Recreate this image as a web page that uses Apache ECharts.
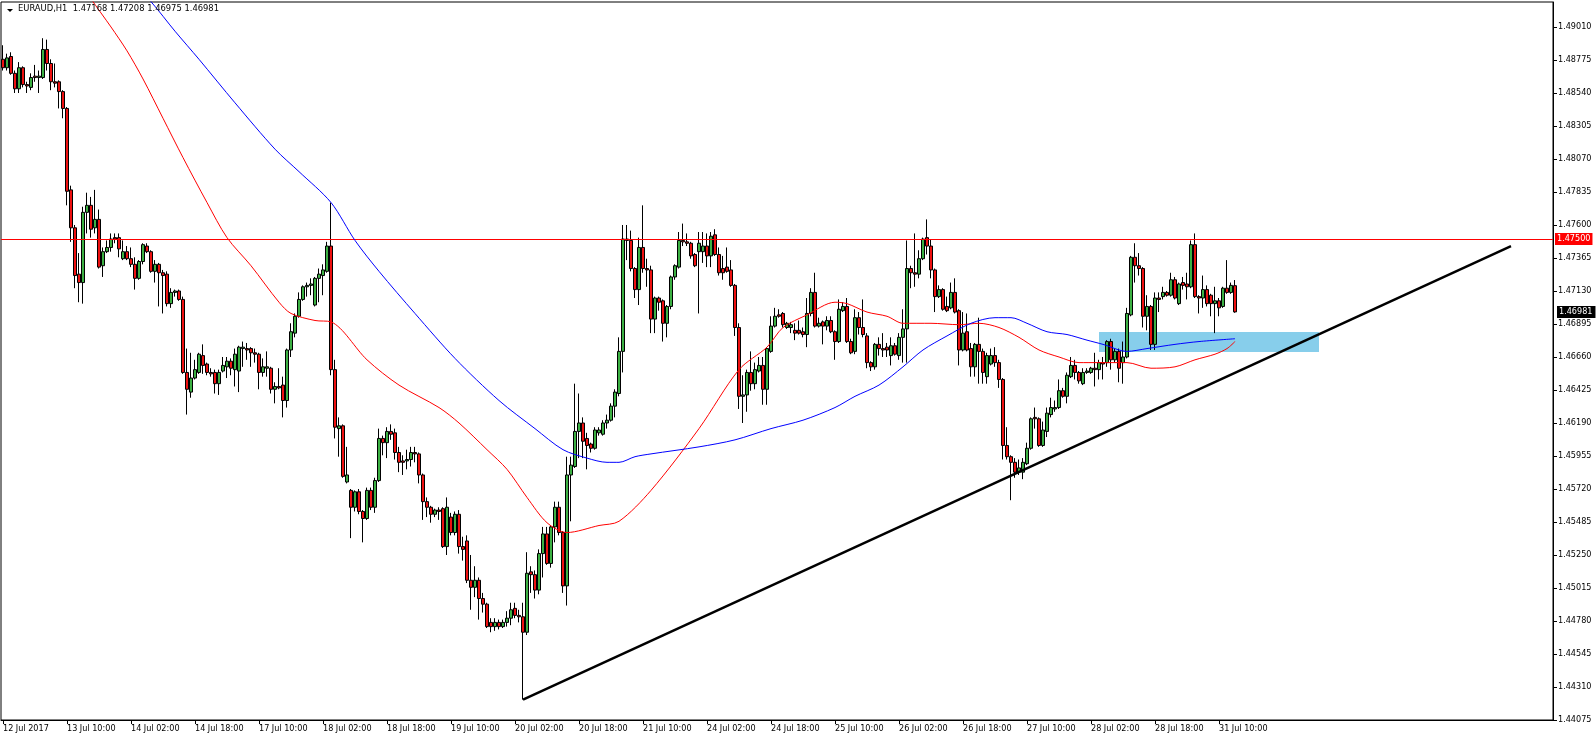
<!DOCTYPE html>
<html><head><meta charset="utf-8">
<script src="https://cdn.jsdelivr.net/npm/echarts@6/dist/echarts.min.js"></script>
<style>html,body{margin:0;padding:0;background:#fff}#c{width:1596px;height:744px}</style>
</head><body><div id="c"></div>
<script>
const symbolName = 'EURAUD,H1';
const firstBarTime = '2017-07-12T18:00:00Z';
const totalSlots = 388;
const xTickEvery = 16;
const xTickLabels = ['12 Jul 2017','13 Jul 10:00','14 Jul 02:00','14 Jul 18:00','17 Jul 10:00','18 Jul 02:00','18 Jul 18:00','19 Jul 10:00','20 Jul 02:00','20 Jul 18:00','21 Jul 10:00','24 Jul 02:00','24 Jul 18:00','25 Jul 10:00','26 Jul 02:00','26 Jul 18:00','27 Jul 10:00','28 Jul 02:00','28 Jul 18:00','31 Jul 10:00'];
const yTicks = [1.44075,1.44310,1.44545,1.44780,1.45015,1.45250,1.45485,1.45720,1.45955,1.46190,1.46425,1.46660,1.46895,1.47130,1.47365,1.47600,1.47835,1.48070,1.48305,1.48540,1.48775,1.49010];
const yMin = 1.44075, yMax = 1.49188;
const resistance = 1.47500;
const trendLine = [[130, 1.4422], [377, 1.4745]];
const zoneX = [274, 329];
const zoneY = [1.46838, 1.46696];
// [open, close, low, high]
const ohlc = [
[1.4878,1.4872,1.4870,1.4888],[1.4872,1.4879,1.4870,1.4882],[1.4880,1.4868,1.4867,1.4883],[1.4868,1.4857,1.4854,1.4870],
[1.4857,1.4872,1.4854,1.4876],[1.4872,1.4860,1.4858,1.4873],[1.4860,1.4859,1.4854,1.4862],[1.4858,1.4865,1.4856,1.4868],
[1.4866,1.4865,1.4862,1.4874],[1.4865,1.4866,1.4854,1.4870],[1.4865,1.4885,1.4864,1.4893],[1.4885,1.4875,1.4870,1.4892],
[1.4875,1.4862,1.4856,1.4878],[1.4862,1.4861,1.4858,1.4875],[1.4862,1.4855,1.4843,1.4863],[1.4855,1.4843,1.4836,1.4856],
[1.4843,1.4784,1.4774,1.4844],[1.4785,1.4758,1.4748,1.4788],[1.4758,1.4724,1.4715,1.4760],[1.4725,1.4719,1.4705,1.4740],
[1.4719,1.4769,1.4704,1.4773],[1.4769,1.4774,1.4754,1.4783],[1.4774,1.4757,1.4751,1.4780],[1.4758,1.4764,1.4754,1.4785],
[1.4764,1.4730,1.4729,1.4771],[1.4731,1.4741,1.4723,1.4744],[1.4741,1.4744,1.4740,1.4749],[1.4744,1.4750,1.4741,1.4754],
[1.4751,1.4750,1.4747,1.4754],[1.4751,1.4743,1.4737,1.4754],[1.4736,1.4741,1.4735,1.4749],[1.4741,1.4736,1.4735,1.4745],
[1.4736,1.4732,1.4730,1.4744],[1.4732,1.4722,1.4714,1.4737],[1.4722,1.4734,1.4721,1.4735],[1.4734,1.4746,1.4732,1.4747],
[1.4745,1.4741,1.4740,1.4747],[1.4741,1.4727,1.4726,1.4742],[1.4727,1.4732,1.4719,1.4735],[1.4732,1.4726,1.4702,1.4733],
[1.4726,1.4724,1.4697,1.4728],[1.4725,1.4704,1.4702,1.4727],[1.4704,1.4712,1.4701,1.4715],[1.4712,1.4713,1.4709,1.4714],
[1.4713,1.4707,1.4706,1.4714],[1.4707,1.4655,1.4654,1.4709],[1.4655,1.4643,1.4625,1.4672],[1.4641,1.4651,1.4637,1.4669],
[1.4651,1.4657,1.4650,1.4664],[1.4655,1.4668,1.4654,1.4669],[1.4667,1.4660,1.4654,1.4675],[1.4661,1.4655,1.4653,1.4662],
[1.4655,1.4654,1.4652,1.4658],[1.4655,1.4647,1.4640,1.4657],[1.4647,1.4655,1.4639,1.4657],[1.4656,1.4660,1.4655,1.4666],
[1.4659,1.4663,1.4651,1.4666],[1.4663,1.4658,1.4653,1.4665],[1.4657,1.4668,1.4645,1.4672],[1.4656,1.4673,1.4641,1.4674],
[1.4672,1.4673,1.4659,1.4677],[1.4672,1.4671,1.4664,1.4676],[1.4672,1.4669,1.4659,1.4673],[1.4669,1.4668,1.4662,1.4672],
[1.4668,1.4655,1.4643,1.4669],[1.4655,1.4659,1.4652,1.4665],[1.4658,1.4659,1.4652,1.4670],[1.4658,1.4643,1.4640,1.4659],
[1.4643,1.4645,1.4633,1.4648],[1.4645,1.4644,1.4643,1.4658],[1.4646,1.4635,1.4623,1.4652],[1.4635,1.4671,1.4630,1.4672],
[1.4671,1.4684,1.4666,1.4690],[1.4683,1.4695,1.4680,1.4697],[1.4695,1.4707,1.4694,1.4712],[1.4707,1.4716,1.4706,1.4717],
[1.4716,1.4717,1.4709,1.4719],[1.4717,1.4718,1.4710,1.4722],[1.4703,1.4722,1.4702,1.4723],[1.4722,1.4725,1.4705,1.4729],
[1.4724,1.4728,1.4710,1.4732],[1.4727,1.4745,1.4726,1.4748],[1.4745,1.4657,1.4653,1.4776],[1.4657,1.4616,1.4608,1.4664],
[1.4615,1.4617,1.4595,1.4623],[1.4617,1.4581,1.4580,1.4618],[1.4577,1.4582,1.4576,1.4602],[1.4571,1.4559,1.4537,1.4572],
[1.4559,1.4570,1.4556,1.4571],[1.4570,1.4556,1.4554,1.4572],[1.4556,1.4551,1.4534,1.4557],[1.4551,1.4571,1.4550,1.4573],
[1.4571,1.4559,1.4557,1.4573],[1.4559,1.4578,1.4555,1.4580],[1.4578,1.4608,1.4577,1.4615],[1.4608,1.4605,1.4596,1.4610],
[1.4605,1.4613,1.4594,1.4616],[1.4613,1.4611,1.4607,1.4618],[1.4612,1.4598,1.4593,1.4615],[1.4598,1.4591,1.4584,1.4602],
[1.4592,1.4591,1.4582,1.4596],[1.4592,1.4593,1.4586,1.4600],[1.4593,1.4598,1.4588,1.4602],[1.4598,1.4597,1.4591,1.4602],
[1.4597,1.4582,1.4576,1.4598],[1.4582,1.4563,1.4550,1.4583],[1.4563,1.4559,1.4552,1.4566],[1.4559,1.4554,1.4548,1.4560],
[1.4554,1.4557,1.4552,1.4558],[1.4557,1.4556,1.4550,1.4559],[1.4558,1.4531,1.4530,1.4559],[1.4531,1.4559,1.4525,1.4566],
[1.4552,1.4541,1.4539,1.4555],[1.4541,1.4554,1.4539,1.4556],[1.4554,1.4531,1.4526,1.4557],[1.4531,1.4529,1.4521,1.4538],
[1.4535,1.4507,1.4505,1.4539],[1.4507,1.4502,1.4486,1.4525],[1.4502,1.4507,1.4495,1.4517],[1.4507,1.4494,1.4479,1.4509],
[1.4494,1.4490,1.4484,1.4498],[1.4490,1.4474,1.4473,1.4491],[1.4477,1.4474,1.4470,1.4480],[1.4474,1.4477,1.4471,1.4480],
[1.4477,1.4474,1.4472,1.4479],[1.4474,1.4477,1.4473,1.4479],[1.4477,1.4480,1.4474,1.4485],[1.4480,1.4486,1.4475,1.4491],
[1.4487,1.4482,1.4480,1.4491],[1.4482,1.4481,1.4477,1.4486],[1.4481,1.4470,1.4422,1.4491],[1.4470,1.4512,1.4468,1.4527],
[1.4513,1.4511,1.4498,1.4517],[1.4511,1.4500,1.4494,1.4514],[1.4500,1.4526,1.4497,1.4529],[1.4526,1.4540,1.4509,1.4545],
[1.4540,1.4519,1.4518,1.4545],[1.4519,1.4545,1.4516,1.4546],[1.4545,1.4559,1.4534,1.4563],[1.4559,1.4541,1.4539,1.4563],
[1.4541,1.4503,1.4498,1.4542],[1.4503,1.4582,1.4489,1.4595],[1.4582,1.4589,1.4549,1.4595],[1.4588,1.4613,1.4587,1.4647],
[1.4613,1.4619,1.4594,1.4640],[1.4619,1.4606,1.4594,1.4623],[1.4608,1.4603,1.4586,1.4612],[1.4604,1.4601,1.4598,1.4605],
[1.4601,1.4614,1.4600,1.4616],[1.4612,1.4614,1.4610,1.4616],[1.4611,1.4619,1.4610,1.4621],[1.4619,1.4621,1.4615,1.4625],
[1.4621,1.4631,1.4620,1.4633],[1.4631,1.4641,1.4623,1.4643],[1.4640,1.4670,1.4638,1.4680],[1.4670,1.4750,1.4655,1.4760],
[1.4750,1.4749,1.4735,1.4760],[1.4749,1.4729,1.4727,1.4756],[1.4729,1.4714,1.4708,1.4730],[1.4714,1.4744,1.4703,1.4751],
[1.4744,1.4729,1.4726,1.4774],[1.4729,1.4728,1.4716,1.4736],[1.4728,1.4693,1.4683,1.4731],[1.4693,1.4708,1.4683,1.4709],
[1.4708,1.4705,1.4699,1.4709],[1.4706,1.4690,1.4677,1.4707],[1.4690,1.4702,1.4680,1.4703],[1.4702,1.4723,1.4700,1.4724],
[1.4723,1.4731,1.4721,1.4732],[1.4730,1.4749,1.4729,1.4755],[1.4749,1.4748,1.4745,1.4761],[1.4748,1.4747,1.4745,1.4754],
[1.4747,1.4738,1.4736,1.4748],[1.4739,1.4731,1.4730,1.4740],[1.4741,1.4747,1.4697,1.4755],[1.4741,1.4745,1.4733,1.4755],
[1.4745,1.4738,1.4730,1.4754],[1.4738,1.4752,1.4730,1.4755],[1.4753,1.4739,1.4738,1.4757],[1.4739,1.4726,1.4724,1.4744],
[1.4729,1.4726,1.4721,1.4738],[1.4730,1.4727,1.4726,1.4744],[1.4728,1.4717,1.4716,1.4735],[1.4717,1.4687,1.4681,1.4718],
[1.4687,1.4638,1.4629,1.4690],[1.4638,1.4639,1.4619,1.4653],[1.4639,1.4655,1.4627,1.4657],[1.4655,1.4647,1.4642,1.4670],
[1.4647,1.4657,1.4643,1.4662],[1.4656,1.4660,1.4655,1.4666],[1.4660,1.4643,1.4632,1.4666],[1.4643,1.4672,1.4632,1.4673],
[1.4670,1.4688,1.4669,1.4695],[1.4688,1.4695,1.4687,1.4701],[1.4696,1.4695,1.4694,1.4700],[1.4697,1.4689,1.4687,1.4698],
[1.4687,1.4690,1.4686,1.4691],[1.4687,1.4689,1.4683,1.4691],[1.4685,1.4683,1.4678,1.4690],[1.4685,1.4683,1.4682,1.4692],
[1.4684,1.4682,1.4680,1.4687],[1.4682,1.4697,1.4673,1.4708],[1.4697,1.4712,1.4695,1.4715],[1.4712,1.4688,1.4687,1.4726],
[1.4688,1.4690,1.4687,1.4694],[1.4691,1.4688,1.4675,1.4692],[1.4688,1.4692,1.4685,1.4695],[1.4692,1.4684,1.4683,1.4695],
[1.4684,1.4677,1.4664,1.4685],[1.4677,1.4700,1.4676,1.4707],[1.4699,1.4702,1.4698,1.4705],[1.4702,1.4677,1.4676,1.4708],
[1.4677,1.4669,1.4668,1.4679],[1.4670,1.4694,1.4668,1.4700],[1.4694,1.4687,1.4682,1.4698],[1.4687,1.4682,1.4680,1.4707],
[1.4681,1.4662,1.4658,1.4683],[1.4662,1.4659,1.4656,1.4663],[1.4659,1.4675,1.4657,1.4676],[1.4675,1.4672,1.4667,1.4680],
[1.4672,1.4671,1.4666,1.4683],[1.4673,1.4671,1.4666,1.4676],[1.4667,1.4674,1.4660,1.4680],[1.4674,1.4668,1.4667,1.4676],
[1.4667,1.4680,1.4664,1.4683],[1.4680,1.4686,1.4662,1.4700],[1.4686,1.4729,1.4662,1.4749],[1.4729,1.4726,1.4715,1.4731],
[1.4726,1.4725,1.4716,1.4754],[1.4725,1.4736,1.4722,1.4742],[1.4736,1.4750,1.4735,1.4751],[1.4751,1.4745,1.4739,1.4764],
[1.4745,1.4728,1.4722,1.4750],[1.4728,1.4709,1.4698,1.4729],[1.4709,1.4714,1.4708,1.4717],[1.4714,1.4700,1.4699,1.4715],
[1.4702,1.4699,1.4698,1.4709],[1.4701,1.4712,1.4700,1.4719],[1.4712,1.4698,1.4697,1.4722],[1.4699,1.4671,1.4660,1.4700],
[1.4671,1.4683,1.4670,1.4698],[1.4684,1.4671,1.4670,1.4697],[1.4672,1.4659,1.4652,1.4676],[1.4659,1.4675,1.4652,1.4676],
[1.4675,1.4670,1.4647,1.4694],[1.4670,1.4655,1.4647,1.4672],[1.4652,1.4667,1.4647,1.4669],[1.4661,1.4667,1.4660,1.4672],
[1.4667,1.4662,1.4659,1.4673],[1.4662,1.4650,1.4644,1.4664],[1.4650,1.4603,1.4593,1.4651],[1.4603,1.4595,1.4593,1.4616],
[1.4595,1.4591,1.4564,1.4596],[1.4591,1.4584,1.4580,1.4594],[1.4584,1.4587,1.4582,1.4593],[1.4584,1.4591,1.4579,1.4594],
[1.4590,1.4601,1.4589,1.4605],[1.4601,1.4622,1.4600,1.4623],[1.4623,1.4622,1.4615,1.4630],[1.4622,1.4603,1.4602,1.4623],
[1.4603,1.4614,1.4602,1.4620],[1.4613,1.4626,1.4609,1.4630],[1.4625,1.4630,1.4623,1.4637],[1.4629,1.4630,1.4627,1.4635],
[1.4630,1.4642,1.4629,1.4650],[1.4642,1.4638,1.4637,1.4644],[1.4638,1.4653,1.4633,1.4655],[1.4652,1.4660,1.4651,1.4666],
[1.4660,1.4655,1.4650,1.4664],[1.4655,1.4649,1.4647,1.4656],[1.4647,1.4655,1.4646,1.4658],[1.4655,1.4656,1.4654,1.4658],
[1.4655,1.4658,1.4654,1.4659],[1.4658,1.4657,1.4645,1.4669],[1.4657,1.4662,1.4650,1.4664],[1.4662,1.4661,1.4650,1.4666],
[1.4662,1.4677,1.4659,1.4678],[1.4677,1.4664,1.4657,1.4679],[1.4664,1.4670,1.4662,1.4672],[1.4670,1.4658,1.4648,1.4672],
[1.4662,1.4666,1.4647,1.4677],[1.4666,1.4697,1.4665,1.4701],[1.4696,1.4737,1.4695,1.4738],[1.4737,1.4731,1.4719,1.4747],
[1.4731,1.4729,1.4724,1.4740],[1.4729,1.4695,1.4687,1.4730],[1.4695,1.4702,1.4685,1.4710],[1.4702,1.4675,1.4671,1.4703],
[1.4675,1.4708,1.4671,1.4712],[1.4708,1.4707,1.4698,1.4712],[1.4709,1.4712,1.4707,1.4716],[1.4712,1.4710,1.4709,1.4713],
[1.4710,1.4721,1.4709,1.4726],[1.4721,1.4708,1.4707,1.4723],[1.4704,1.4718,1.4703,1.4719],[1.4719,1.4717,1.4714,1.4723],
[1.4718,1.4716,1.4707,1.4726],[1.4716,1.4746,1.4715,1.4749],[1.4746,1.4709,1.4708,1.4754],[1.4709,1.4708,1.4697,1.4710],
[1.4708,1.4714,1.4701,1.4724],[1.4714,1.4704,1.4702,1.4717],[1.4710,1.4704,1.4695,1.4711],[1.4704,1.4706,1.4683,1.4716],
[1.4706,1.4701,1.4695,1.4708],[1.4702,1.4715,1.4701,1.4716],[1.4715,1.4712,1.4711,1.4735],[1.4712,1.4717,1.4711,1.4719],
[1.47168,1.46981,1.46975,1.47208]
];
// moving averages: [bar index, price]
const maRed = [[20,1.4930],[22,1.4921],[27,1.4901],[31,1.4884],[35,1.4864],[40,1.4836],[45,1.4808],[51,1.4776],[56,1.4751],[62,1.4731],[69,1.4705],[72,1.4697],[78,1.4692],[82,1.4691],[91,1.4664],[99,1.4646],[109,1.4630],[114,1.4619],[121,1.4600],[126,1.4586],[131,1.4566],[136,1.4548],[141,1.4541],[149,1.4546],[154,1.4549],[162,1.4571],[174,1.4615],[184,1.4657],[191,1.4673],[195,1.4687],[201,1.4696],[208,1.4705],[211,1.4704],[216,1.4698],[221,1.4695],[225,1.4690],[232,1.4690],[239,1.4689],[244,1.4690],[249,1.4687],[254,1.4680],[259,1.4671],[264,1.4666],[269,1.4662],[274,1.4662],[281,1.4662],[287,1.4658],[293,1.4659],[298,1.4664],[303,1.4668],[306,1.4672],[308,1.4677]];
const maBlue = [[33,1.4930],[37,1.4919],[43,1.4898],[49,1.4878],[58,1.4847],[68,1.4814],[74,1.4798],[82,1.4776],[88,1.4749],[94,1.4727],[103,1.4697],[113,1.4665],[124,1.4635],[133,1.4615],[140,1.4600],[146,1.4594],[151,1.4591],[154,1.4591],[158,1.4595],[162,1.4597],[174,1.4602],[183,1.4607],[192,1.4615],[200,1.4621],[208,1.4630],[213,1.4638],[219,1.4646],[225,1.4659],[230,1.4671],[236,1.4681],[242,1.4690],[248,1.4694],[252,1.4694],[256,1.4690],[261,1.4684],[266,1.4682],[271,1.4678],[275,1.4675],[281,1.4670],[286,1.4672],[293,1.4675],[299,1.4677],[308,1.4679]];

const months=['Jan','Feb','Mar','Apr','May','Jun','Jul','Aug','Sep','Oct','Nov','Dec'];
const cats=[]; let t=Date.parse(firstBarTime);
while(cats.length<totalSlots){const d=new Date(t);const wd=d.getUTCDay();
  if(wd!==0&&wd!==6){cats.push(d.getUTCDate()+' '+months[d.getUTCMonth()]+' '+String(d.getUTCHours()).padStart(2,'0')+':00');}
  t+=3600000;}
const FONT='"DejaVu Sans Condensed","DejaVu Sans",sans-serif';
const showTick=(i)=> i%xTickEvery===0 && i/xTickEvery<xTickLabels.length;
const last=ohlc[ohlc.length-1];
const headerText=symbolName+'  '+[last[0],last[3],last[2],last[1]].map(v=>v.toFixed(5)).join(' ');

const chart=echarts.init(document.getElementById('c'),null,{renderer:'canvas'});
chart.setOption({
  animation:false,
  backgroundColor:'#ffffff',
  grid:{left:1,right:43,top:2,bottom:24,show:true,borderColor:'#000',borderWidth:1,backgroundColor:'transparent'},
  xAxis:{type:'category',data:cats,boundaryGap:true,
    axisLine:{show:true,lineStyle:{color:'#000',width:1}},
    axisTick:{show:true,alignWithLabel:true,interval:(i)=>showTick(i),length:4,lineStyle:{color:'#000'}},
    axisLabel:{interval:(i)=>showTick(i),formatter:(v,i)=>xTickLabels[Math.round(i/xTickEvery)]||'',align:'left',margin:4,color:'#000',fontFamily:FONT,fontSize:9},
    splitLine:{show:false}},
  yAxis:{type:'value',position:'right',min:yMin,max:yMax,scale:true,
    splitLine:{show:false},
    axisLine:{show:true,lineStyle:{color:'#000',width:1}},
    axisTick:{show:true,length:4,customValues:yTicks,lineStyle:{color:'#000'}},
    axisLabel:{customValues:yTicks,formatter:(v)=>v.toFixed(5),color:'#000',fontFamily:FONT,fontSize:9,margin:5,showMinLabel:true,showMaxLabel:true}},
  graphic:[
    {type:'polygon',shape:{points:[[7,9],[13,9],[10,12]]},style:{fill:'#000'},z:100},
    {type:'text',left:18,top:4,style:{text:headerText,fill:'#000',font:'9.3px '+FONT},z:100}
  ],
  series:[
    {type:'line',name:'zone',data:[[zoneX[0],zoneY[0]],[zoneX[1],zoneY[1]]],showSymbol:false,symbol:'none',lineStyle:{opacity:0,width:0},z:1,silent:true,
      markArea:{silent:true,itemStyle:{color:'#87CEEB',opacity:1},data:[[{xAxis:zoneX[0],yAxis:zoneY[0]},{xAxis:zoneX[1],yAxis:zoneY[1]}]]}},
    {type:'candlestick',name:'EURAUD',data:ohlc,barWidth:3,z:3,
      itemStyle:{color:'#3cb043',color0:'#ee1111',borderColor:'#000',borderColor0:'#000',borderWidth:1},
      markLine:{symbol:'none',silent:true,animation:false,precision:5,data:[
        {yAxis:resistance,lineStyle:{color:'#ff0000',width:1,type:'solid'},
          label:{show:true,position:'end',distance:2,formatter:resistance.toFixed(5),color:'#fff',backgroundColor:'#ff0000',padding:[2,2,1,2],fontFamily:FONT,fontSize:9}},
        {yAxis:last[1],lineStyle:{color:'rgba(0,0,0,0)',width:0},
          label:{show:true,position:'end',distance:4,formatter:last[1].toFixed(5),color:'#fff',backgroundColor:'#000',padding:[2,3,1,2],fontFamily:FONT,fontSize:9}}
      ]}},
    {type:'line',name:'MA red',data:maRed,smooth:0.3,symbol:'none',lineStyle:{color:'#ff0000',width:1},z:5,silent:true},
    {type:'line',name:'MA blue',data:maBlue,smooth:0.3,symbol:'none',lineStyle:{color:'#0000ff',width:1},z:5,silent:true},
    {type:'line',name:'trend',data:trendLine,symbol:'none',lineStyle:{color:'#000',width:2.5},z:6,silent:true}
  ]
});
</script></body></html>
